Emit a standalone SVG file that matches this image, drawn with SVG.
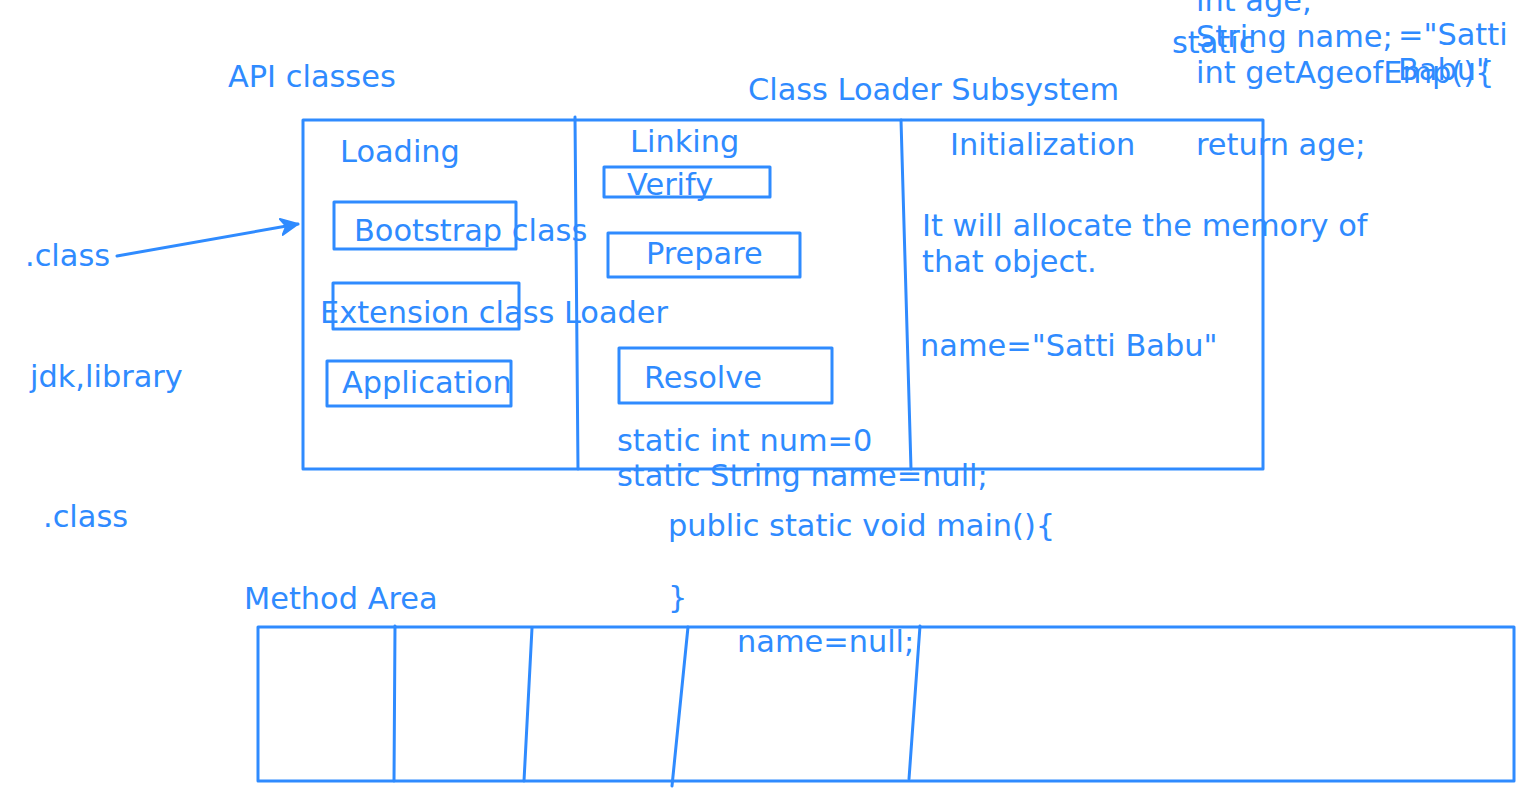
<svg xmlns="http://www.w3.org/2000/svg" width="1535" height="811" viewBox="0 0 1535 811">
<defs>
<style>
text{font-family:"DejaVu Sans",Verdana,sans-serif;font-size:30.4px;fill:#2f8bff}
.s{fill:none;stroke:#2f8bff;stroke-width:3;stroke-linecap:round;stroke-linejoin:round}
</style>
<marker id="ah" viewBox="0 0 20 20" refX="18" refY="10" markerWidth="20" markerHeight="20" markerUnits="userSpaceOnUse" orient="auto">
<path d="M1,2 L18,10 L1,18 L6,10 Z" fill="#2f8bff" stroke="#2f8bff" stroke-width="2" stroke-linejoin="round"/>
</marker>
</defs>
<rect width="1535" height="811" fill="#ffffff"/>

<g id="class-loader-subsystem">
<rect class="s" x="303" y="120" width="960" height="349"/>
<text x="748" y="100">Class Loader Subsystem</text>
</g>
<g id="loading">
<path class="s" d="M575,117 L578,469"/>
<text x="340" y="162">Loading</text>
</g>
<g id="bootstrap">
<rect class="s" x="334" y="202" width="182" height="47"/>
<text x="354" y="241">Bootstrap class</text>
</g>
<g id="extension">
<rect class="s" x="333" y="283" width="186" height="46"/>
<text x="320" y="323">Extension class Loader</text>
</g>
<g id="application">
<rect class="s" x="327" y="361" width="184" height="45"/>
<text x="342" y="393">Application</text>
</g>
<g id="linking">
<path class="s" d="M901,120 L911,469"/>
<text x="630" y="152">Linking</text>
</g>
<g id="verify">
<rect class="s" x="604" y="167" width="166" height="30"/>
<text x="627" y="195">Verify</text>
</g>
<g id="prepare">
<rect class="s" x="608" y="233" width="192" height="44"/>
<text x="646" y="264">Prepare</text>
</g>
<g id="resolve">
<rect class="s" x="619" y="348" width="213" height="55"/>
<text x="644" y="388">Resolve</text>
</g>
<g id="initialization">
<text x="950" y="155">Initialization</text>
<text x="922" y="236">It will allocate the memory of</text>
<text x="922" y="272">that object.</text>
<text x="920" y="356">name="Satti Babu"</text>
</g>

<g id="api-classes"><text x="228" y="87">API classes</text></g>
<g id="class-in"><text x="25" y="266">.class</text></g>
<g id="jdk"><text x="30" y="387">jdk,library</text></g>
<g id="class-2"><text x="43" y="527">.class</text></g>

<g id="code">
<text x="617" y="451">static int num=0</text>
<text x="617" y="486">static String name=null;</text>
<text x="668" y="536">public static void main(){</text>
<text x="668" y="608">}</text>
</g>

<g id="top-code">
<text x="1196" y="11">int age;</text>
<text x="1196" y="47">String name;</text>
<text x="1398" y="45">="Satti</text>
<text x="1172" y="53">static</text>
<text x="1196" y="83">int getAgeofEmp(){</text>
<text x="1398" y="80">Babu"</text>
<text x="1196" y="155">return age;</text>
</g>

<g id="method-area">
<text x="244" y="609">Method Area</text>
<rect class="s" x="258" y="627" width="1256" height="154"/>
<path class="s" d="M395,626 L394,781"/>
<path class="s" d="M532,628 L524,781"/>
<path class="s" d="M688,627 L672,786"/>
<path class="s" d="M920,626 L909,779"/>
<text x="737" y="652">name=null;</text>
</g>

<g id="connectors">
<path class="s" d="M117,256 L298,224" marker-end="url(#ah)"/>
</g>
</svg>
